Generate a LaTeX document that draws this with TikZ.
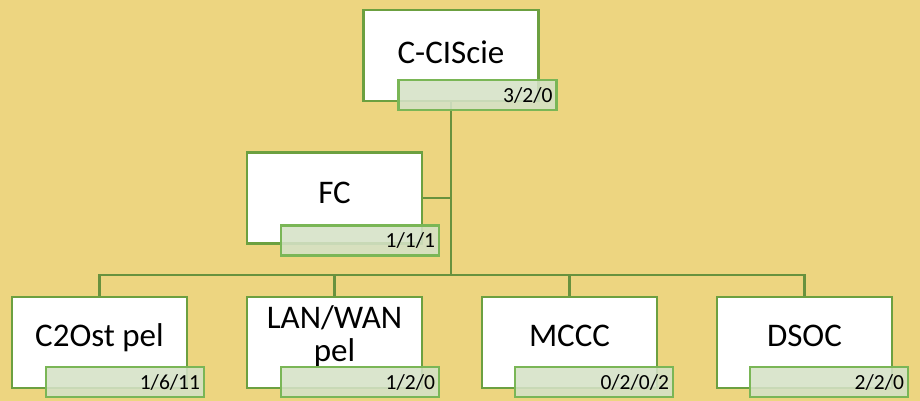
\documentclass[tikz,border=0pt]{standalone}
\usepackage{fontspec}
\setmainfont{Carlito}
\usepackage{tikz}
\usetikzlibrary{positioning}
\definecolor{bgyellow}{RGB}{237,213,128}
\definecolor{boxgreen}{RGB}{108,160,64}
\definecolor{tabgreen}{RGB}{122,182,86}
\definecolor{tabfill}{RGB}{213,226,199}
\definecolor{linkgreen}{RGB}{104,146,62}

\begin{document}
\begin{tikzpicture}[x=1pt,y=-1pt]
% 1. Stile definieren
\tikzset{
  unitbox/.style={
    draw=boxgreen,
    fill=white,
    line width=2.2pt,
    minimum width=175pt,
    minimum height=91pt,
    inner sep=0pt
  },
  unittext/.style={
    font=\fontsize{33}{37}\selectfont,
    align=center,
    inner sep=0pt
  },
  counttab/.style={
    draw=tabgreen,
    fill=tabfill,
    fill opacity=0.88,
    text opacity=1,
    line width=2.2pt,
    anchor=south east,
    text width=150pt,
    align=right,
    inner xsep=4pt,
    inner ysep=0pt,
    minimum height=30pt,
    font=\fontsize{21.5}{24}\selectfont
  },
  link/.style={
    draw=linkgreen,
    line width=2.5pt
  }
}

% 2. Hintergrund
\fill [bgyellow] (0,0) rectangle (920,401);
\useasboundingbox (0,0) rectangle (920,401);

% 3. Kaesten
\node [unitbox] (cis) at (451,55.5) {};
\node [unitbox] (fc) at (334.5,198) {};
\node [unitbox] (c2ost) at (99.5,342.5) {};
\node [unitbox] (lanwan) at (334.5,342.5) {};
\node [unitbox] (mccc) at (569.5,342.5) {};
\node [unitbox] (dsoc) at (804.5,342.5) {};

% 4. Linien
\coordinate (bus) at (451,275);
\draw [link] (cis.south) -- (bus);
\draw [link] (fc.east) -- (fc.east -| bus);
\foreach \n in {c2ost,lanwan,mccc,dsoc}
  \draw [link] (\n.north) |- (bus);

% 5. Beschriftungen
\node [unittext] (cis-t) at ([yshift=3pt]cis.center) {C-CIScie};
\node [unittext] (fc-t) at ([yshift=5pt]fc.center) {FC};
\node [unittext] (c2ost-t) at ([yshift=5pt]c2ost.center) {C2Ost pel};
\node [unittext] (lanwan-t) at ([yshift=6pt]lanwan.center) {LAN/WAN\\[-4pt]pel};
\node [unittext] (mccc-t) at ([yshift=7pt]mccc.center) {MCCC};
\node [unittext] (dsoc-t) at ([yshift=7pt]dsoc.center) {DSOC};

% 6. Zaehler-Reiter
\node [counttab] (cis-n) at ([xshift=18pt,yshift=-9pt]cis.south east) {3/2/0};
\node [counttab] (fc-n) at ([xshift=17pt,yshift=-12pt]fc.south east) {1/1/1};
\node [counttab] (c2ost-n) at ([xshift=17pt,yshift=-9pt]c2ost.south east) {1/6/11};
\node [counttab] (lanwan-n) at ([xshift=17pt,yshift=-9pt]lanwan.south east) {1/2/0};
\node [counttab] (mccc-n) at ([xshift=16pt,yshift=-9pt]mccc.south east) {0/2/0/2};
\node [counttab] (dsoc-n) at ([xshift=16pt,yshift=-9pt]dsoc.south east) {2/2/0};

\end{tikzpicture}
\end{document}
